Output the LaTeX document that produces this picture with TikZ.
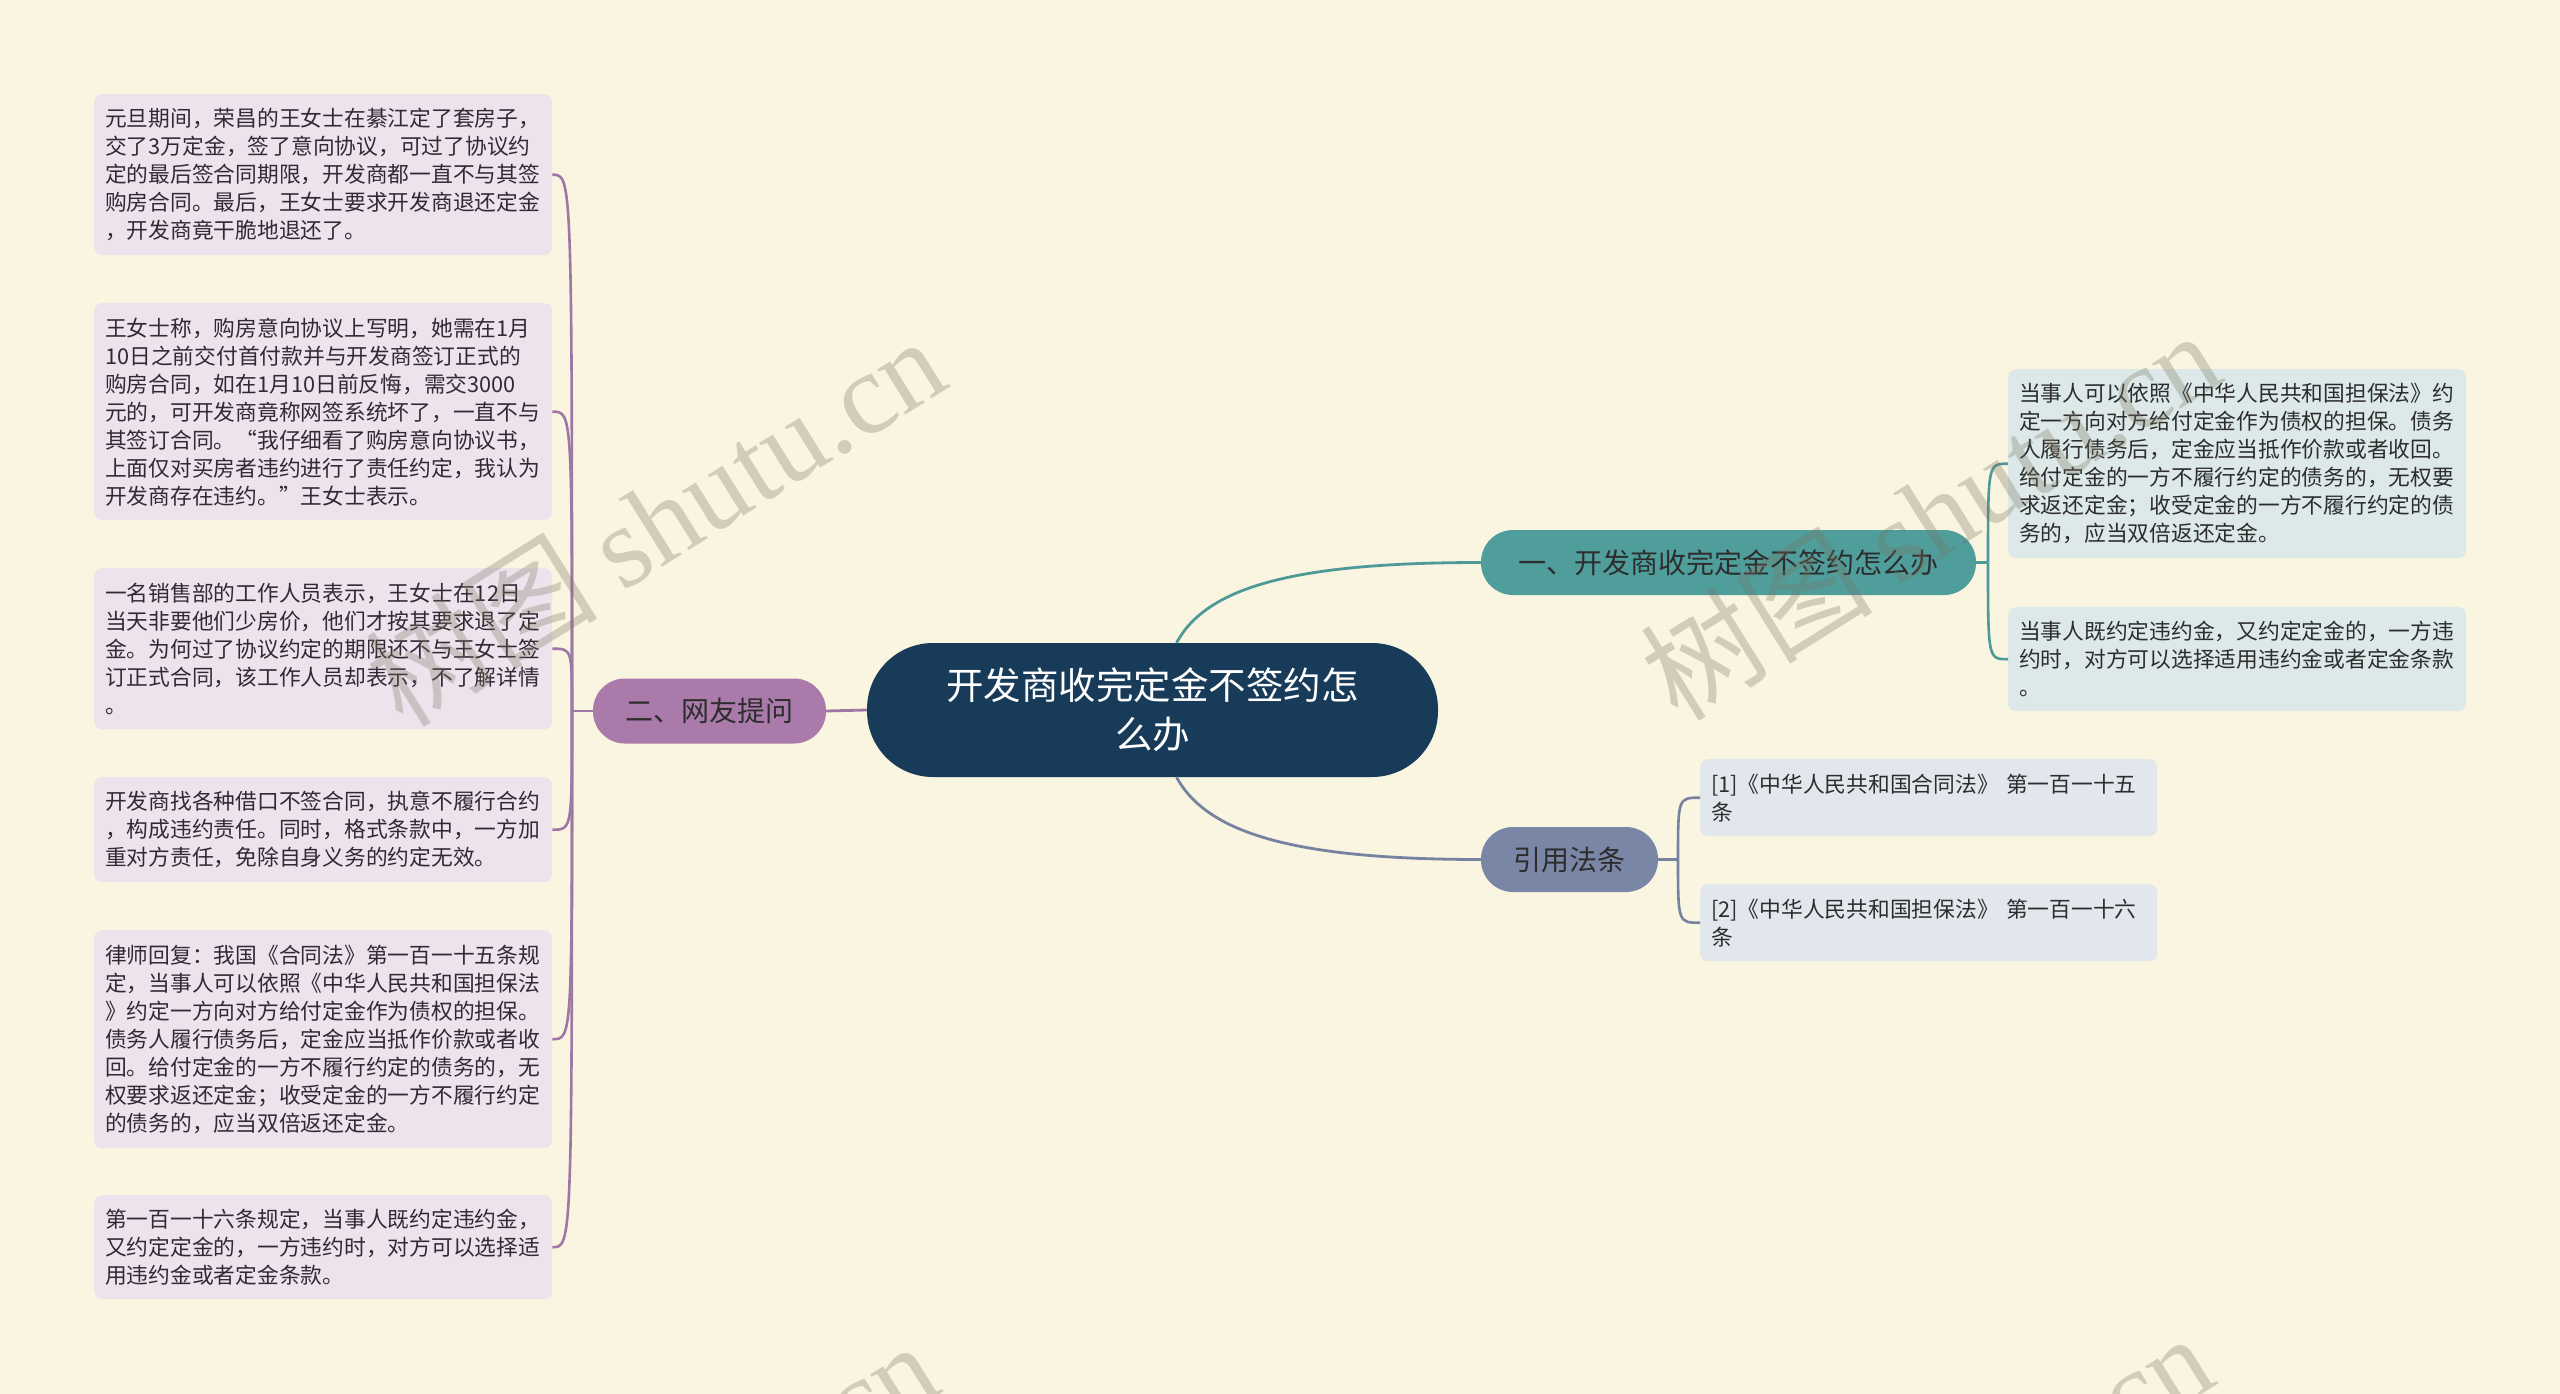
\documentclass[tikz,border=0pt]{standalone}
\usepackage{fontspec}
\setmainfont{Noto Sans CJK SC}
\newfontfamily\wmlatin{Liberation Serif}
\usetikzlibrary{calc}
\setlength\parindent{0pt}
\definecolor{bg}{RGB}{250,245,224}
\definecolor{central}{RGB}{24,59,89}
\definecolor{tealbr}{RGB}{80,158,156}
\definecolor{slatebr}{RGB}{122,134,166}
\definecolor{purplebr}{RGB}{170,122,170}
\definecolor{tealline}{RGB}{78,154,152}
\definecolor{slateline}{RGB}{118,130,160}
\definecolor{purpleline}{RGB}{158,120,165}
\definecolor{leafp}{RGB}{237,227,237}
\definecolor{leaft}{RGB}{220,233,232}
\definecolor{leafs}{RGB}{226,230,237}
\definecolor{txtdark}{RGB}{45,45,45}
\definecolor{txtp}{RGB}{52,40,52}
\definecolor{wm}{RGB}{120,115,95}
\begin{document}
\begin{tikzpicture}[x=1pt,y=1pt,
  centralbox/.style={fill=central, text=white, rounded corners=66pt, minimum width=571pt, minimum height=134pt, align=center, inner sep=0pt, font=\fontsize{37.5}{49}\selectfont},
  branchbox/.style={rounded corners=32pt, minimum height=65pt, inner sep=0pt, text=txtdark, font=\fontsize{28}{34}\selectfont},
  leafbox/.style={rounded corners=8pt, anchor=north west, text width=436pt, align=left, inner xsep=11pt, inner ysep=0pt, font=\fontsize{21.75}{28}\selectfont},
  pleaf/.style={leafbox, fill=leafp, text=txtp},
  tleaf/.style={leafbox, fill=leaft, text=txtdark},
  sleaf/.style={leafbox, fill=leafs, text=txtdark, text width=435pt},
  pline/.style={draw=purpleline, line width=2.6pt},
  tline/.style={draw=tealline, line width=2.6pt},
  sline/.style={draw=slateline, line width=2.6pt},
  wmark/.style={rotate=32, text=wm, opacity=0.3, font=\fontsize{116}{120}\selectfont}
]
\fill[bg] (0,0) rectangle (2560,-1394);
\useasboundingbox (0,0) rectangle (2560,-1394);

% central
\node[centralbox] (c) at (1152.5,-710) {开发商收完定金不签约怎\\么办};

% branches
\node[branchbox, fill=tealbr, minimum width=495pt] (b1) at (1728.5,-562.5) {一、开发商收完定金不签约怎么办};
\node[branchbox, fill=slatebr, minimum width=177pt] (b2) at (1569.5,-859.5) {引用法条};
\node[branchbox, fill=purplebr, minimum width=233pt] (b3) at (709.5,-711) {二、网友提问};

% left leaves
\node[pleaf, minimum height=161pt] (l1) at (94,-94) {元旦期间，荣昌的王女士在綦江定了套房子，\\交了3万定金，签了意向协议，可过了协议约\\定的最后签合同期限，开发商都一直不与其签\\购房合同。最后，王女士要求开发商退还定金\\，开发商竟干脆地退还了。};
\node[pleaf, minimum height=217pt] (l2) at (94,-303) {王女士称，购房意向协议上写明，她需在1月\\10日之前交付首付款并与开发商签订正式的\\购房合同，如在1月10日前反悔，需交3000\\元的，可开发商竟称网签系统坏了，一直不与\\其签订合同。“我仔细看了购房意向协议书，\\上面仅对买房者违约进行了责任约定，我认为\\开发商存在违约。”王女士表示。};
\node[pleaf, minimum height=161pt] (l3) at (94,-568) {一名销售部的工作人员表示，王女士在12日\\当天非要他们少房价，他们才按其要求退了定\\金。为何过了协议约定的期限还不与王女士签\\订正式合同，该工作人员却表示，不了解详情\\。};
\node[pleaf, minimum height=105pt] (l4) at (94,-777) {开发商找各种借口不签合同，执意不履行合约\\，构成违约责任。同时，格式条款中，一方加\\重对方责任，免除自身义务的约定无效。};
\node[pleaf, minimum height=218pt] (l5) at (94,-930) {律师回复：我国《合同法》第一百一十五条规\\定，当事人可以依照《中华人民共和国担保法\\》约定一方向对方给付定金作为债权的担保。\\债务人履行债务后，定金应当抵作价款或者收\\回。给付定金的一方不履行约定的债务的，无\\权要求返还定金；收受定金的一方不履行约定\\的债务的，应当双倍返还定金。};
\node[pleaf, minimum height=104pt] (l6) at (94,-1195) {第一百一十六条规定，当事人既约定违约金，\\又约定定金的，一方违约时，对方可以选择适\\用违约金或者定金条款。};

% right leaves
\node[tleaf, minimum height=189pt] (r1) at (2008,-369) {当事人可以依照《中华人民共和国担保法》约\\定一方向对方给付定金作为债权的担保。债务\\人履行债务后，定金应当抵作价款或者收回。\\给付定金的一方不履行约定的债务的，无权要\\求返还定金；收受定金的一方不履行约定的债\\务的，应当双倍返还定金。};
\node[tleaf, minimum height=104pt] (r2) at (2008,-607) {当事人既约定违约金，又约定定金的，一方违\\约时，对方可以选择适用违约金或者定金条款\\。};

% citation leaves
\node[sleaf, minimum height=77pt] (q1) at (1700,-759) {[1]《中华人民共和国合同法》 第一百一十五\\条};
\node[sleaf, minimum height=77pt] (q2) at (1700,-884) {[2]《中华人民共和国担保法》 第一百一十六\\条};

% connectors from central
\draw[tline, line width=2.8pt] ($(c.north)+(24,0)$) .. controls +(30,55) and +(-190,0) .. (b1.west);
\draw[sline, line width=2.8pt] ($(c.south)+(24,0)$) .. controls +(30,-55) and +(-190,0) .. (b2.west);
\draw[pline, line width=2.8pt] (c.west) -- (b3.east);

% left bracket
\coordinate (sL) at (572,-711);
\draw[pline] (b3.west) -- (sL);
\foreach \n in {l1,l2,l3,l4,l5,l6}
  \draw[pline] (sL) .. controls (sL |- \n.east) .. (\n.east);

% right bracket
\coordinate (sR) at (1988,-562.5);
\draw[tline] (b1.east) -- (sR);
\foreach \n in {r1,r2}
  \draw[tline] (sR) .. controls (sR |- \n.west) .. (\n.west);

% citation bracket
\coordinate (sC) at (1678,-859.5);
\draw[sline] (b2.east) -- (sC);
\foreach \n in {q1,q2}
  \draw[sline] (sC) .. controls (sC |- \n.west) .. (\n.west);

% watermarks
\begin{scope}
\clip (0,0) rectangle (2560,-1394);
\node[wmark] (w1) at (655,-520) {树图 {\wmlatin shutu.cn}};
\node[wmark] (w2) at (1930,-514) {树图 {\wmlatin shutu.cn}};
\node[wmark] (w3) at (648,-1525) {树图 {\wmlatin shutu.cn}};
\node[wmark] (w4) at (1923,-1517) {树图 {\wmlatin shutu.cn}};
\end{scope}
\end{tikzpicture}
\end{document}
